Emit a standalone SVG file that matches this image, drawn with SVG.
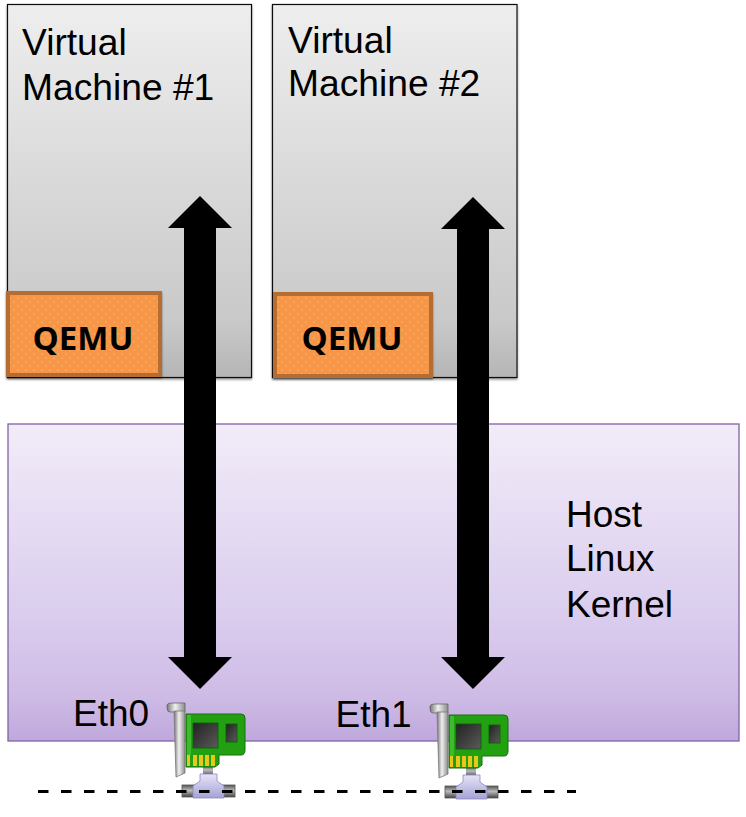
<svg xmlns="http://www.w3.org/2000/svg" width="746" height="817" viewBox="0 0 746 817">
<style>
.t{font-family:"Liberation Sans",Arial,sans-serif;font-size:37px;fill:#000}
.v{font-size:37.200px}
.q{font-family:"Open Sans","Noto Sans",sans-serif;font-weight:700;font-size:33px;fill:#000;text-anchor:middle}
.vm{fill:url(#g);stroke:#111;stroke-width:1.2}
.qb{fill:#f79646;stroke:#b66d31;stroke-width:4}
.dots{fill:url(#dots);stroke:none}
</style>
<defs>
<linearGradient id="g" x1="0" y1="0" x2="0" y2="1"><stop offset="0" stop-color="#eeeeee"/><stop offset="0.85" stop-color="#c9c9c9"/><stop offset="1" stop-color="#b5b5b5"/></linearGradient>
<linearGradient id="p" x1="0" y1="0" x2="0" y2="1"><stop offset="0" stop-color="#f2ecf8"/><stop offset="0.6" stop-color="#dacdee"/><stop offset="0.85" stop-color="#cfbce6"/><stop offset="1" stop-color="#bfa8dc"/></linearGradient>
<linearGradient id="br" x1="0" y1="0" x2="1" y2="0"><stop offset="0" stop-color="#777"/><stop offset="0.45" stop-color="#f0f0f0"/><stop offset="1" stop-color="#8c8c8c"/></linearGradient>
<linearGradient id="chip" x1="0" y1="0" x2="1" y2="1"><stop offset="0" stop-color="#222"/><stop offset="1" stop-color="#5a5a5a"/></linearGradient>
<linearGradient id="tee" x1="0" y1="0" x2="0" y2="1"><stop offset="0" stop-color="#e6e4f8"/><stop offset="1" stop-color="#a5a2d6"/></linearGradient>
<linearGradient id="pipe" x1="0" y1="0" x2="0" y2="1"><stop offset="0" stop-color="#555"/><stop offset="0.45" stop-color="#bbb"/><stop offset="1" stop-color="#444"/></linearGradient>
<pattern id="dots" width="8" height="8" patternUnits="userSpaceOnUse"><circle cx="2" cy="2" r="0.6" fill="#fbd3ae"/><circle cx="6" cy="6" r="0.6" fill="#fbd3ae"/></pattern>
<filter id="sh" x="-5%" y="-5%" width="110%" height="110%"><feDropShadow dx="0" dy="1.5" stdDeviation="1" flood-color="#000" flood-opacity="0.45"/></filter>
<g id="nic">
<rect x="182" y="785" width="53" height="12" fill="url(#pipe)" stroke="#555" stroke-width="0.8"/>
<rect x="203" y="765" width="10" height="11" fill="url(#pipe)"/>
<path d="M200 774H217V781L224 786V798H193V786L200 781Z" fill="url(#tee)" stroke="#8a88c0" stroke-width="0.8"/>
<path d="M186 714H241Q245 714 245 718V750Q245 755 241 755H219V764L215 767H186Z" fill="#22a012" stroke="#14700c" stroke-width="1"/>
<rect x="187" y="715" width="4" height="40" fill="#3dbb2c"/>
<rect x="193" y="723" width="25" height="25" fill="url(#chip)" stroke="#0e5a08" stroke-width="0.8"/>
<rect x="226" y="724" width="11" height="18" fill="url(#chip)" stroke="#0e5a08" stroke-width="0.8"/>
<path d="M187 755h3v11h-3zM193 755h4v11h-4zM199 755h4v11h-4zM205 755h4v11h-4zM211 755h4v11h-4z" fill="#e8c81a"/>
<path d="M167 705Q167 703 172 703H185V712H170Q167 712 167 708Z" fill="url(#br)" stroke="#666" stroke-width="0.8"/>
<path d="M174 711H185V773L176 777Z" fill="url(#br)" stroke="#777" stroke-width="0.8"/>
</g>
</defs>
<g id="vm1"><rect class="vm" x="7.500" y="4.500" width="244" height="373" filter="url(#sh)"/><text class="t v" x="22" y="55">Virtual</text><text class="t v" x="22" y="100">Machine #1</text></g>
<g id="vm2"><rect class="vm" x="272.500" y="4.500" width="244.500" height="373" filter="url(#sh)"/><text class="t v" x="288" y="53">Virtual</text><text class="t v" x="288" y="96">Machine #2</text></g>
<g id="qemu1"><rect class="qb" x="8" y="293" width="152" height="82" filter="url(#sh)"/><rect class="dots" x="10" y="295" width="148" height="78"/><text class="q" x="83" y="350">QEMU</text></g>
<g id="qemu2"><rect class="qb" x="275" y="294" width="156" height="82" filter="url(#sh)"/><rect class="dots" x="277" y="296" width="152" height="78"/><text class="q" x="352" y="350">QEMU</text></g>
<g id="host"><rect x="8" y="424" width="731" height="317" fill="url(#p)" stroke="#8064a2" stroke-width="1.3"/><text class="t" x="566" y="527">Host</text><text class="t" x="566" y="571">Linux</text><text class="t" x="566" y="617">Kernel</text></g>
<g id="eth0"><text class="t" x="73" y="726">Eth0</text><use href="#nic"/></g>
<g id="eth1"><text class="t" x="335.500" y="727">Eth1</text><use href="#nic" transform="translate(263,1)"/></g>
<g id="connectors">
<polygon points="200,196 232,228 216,228 216,657 232,657 200,689 168,657 184,657 184,228 168,228" fill="#000"/>
<polygon points="473,197 505,229 489,229 489,657 505,657 473,689 441,657 457,657 457,229 441,229" fill="#000"/>
<line x1="38" y1="791.500" x2="576" y2="791.500" stroke="#000" stroke-width="3" stroke-dasharray="10.500 12.500"/>
</g>
</svg>
